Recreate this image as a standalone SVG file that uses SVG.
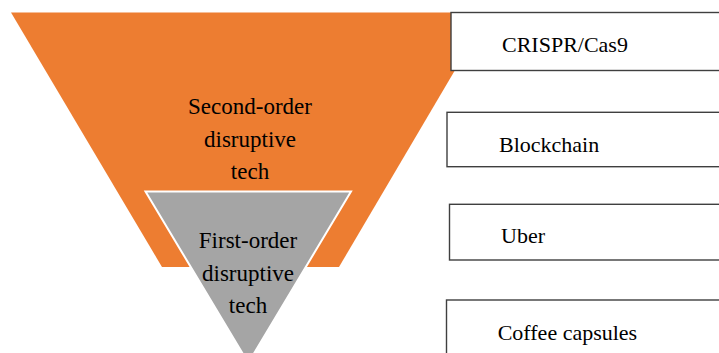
<svg xmlns="http://www.w3.org/2000/svg" width="719" height="353" viewBox="0 0 719 353">
<style>
.t{font-family:'Liberation Serif','DejaVu Serif',serif;fill:#000}
.big{font-size:23px;text-anchor:middle}
.lbl{font-size:22px}
.box{fill:#fff;stroke:#3f3f3f;stroke-width:1.4}
</style>
<rect width="719" height="353" fill="#fff"/>
<g id="second-order">
<polygon points="11,12.5 489,12.5 339,267 162,267" fill="#ED7D31"/>
<text class="t big" font-family="Liberation Serif" x="250" y="114">Second-order</text>
<text class="t big" font-family="Liberation Serif" x="250" y="147">disruptive</text>
<text class="t big" font-family="Liberation Serif" x="250" y="179">tech</text>
</g>
<g id="first-order">
<polygon points="145.5,191.5 351,191.5 248.3,363" fill="#A5A5A5" stroke="#fff" stroke-width="2"/>
<text class="t big" font-family="Liberation Serif" x="248" y="248">First-order</text>
<text class="t big" font-family="Liberation Serif" x="248" y="281">disruptive</text>
<text class="t big" font-family="Liberation Serif" x="248" y="313">tech</text>
</g>
<g id="connectors"></g>
<g id="crispr">
<rect class="box" x="451" y="12.5" width="290" height="58"/>
<text class="t lbl" font-family="Liberation Serif" x="502" y="52.3">CRISPR/Cas9</text>
</g>
<g id="blockchain">
<rect class="box" x="447" y="112.3" width="290" height="54.4"/>
<text class="t lbl" font-family="Liberation Serif" x="499" y="151.7">Blockchain</text>
</g>
<g id="uber">
<rect class="box" x="449.5" y="204.3" width="290" height="55.7"/>
<text class="t lbl" font-family="Liberation Serif" x="501" y="243.3">Uber</text>
</g>
<g id="coffee">
<rect class="box" x="446.5" y="300" width="290" height="70"/>
<text class="t lbl" font-family="Liberation Serif" x="497.7" y="340">Coffee capsules</text>
</g>
</svg>
